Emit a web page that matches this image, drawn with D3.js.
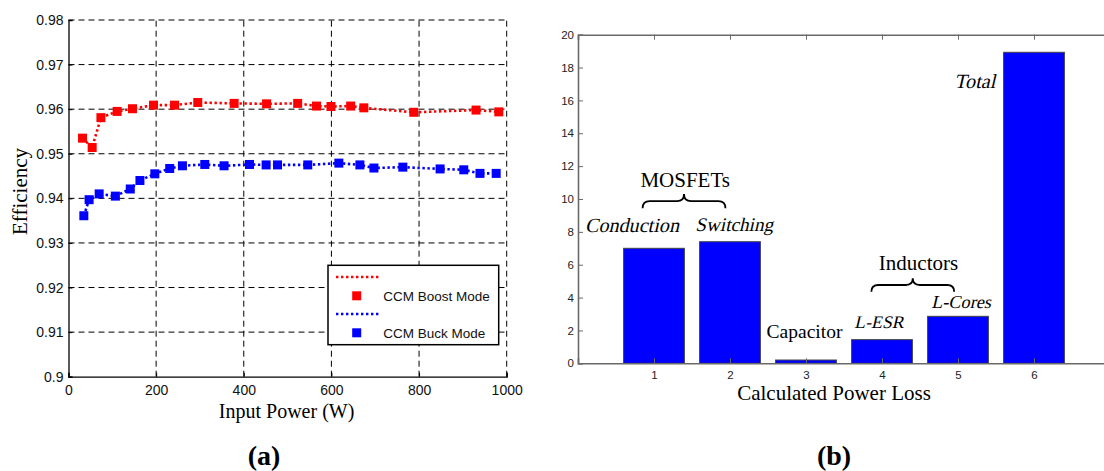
<!DOCTYPE html>
<html><head><meta charset="utf-8">
<script src="https://cdn.jsdelivr.net/npm/d3@7"></script>
<style>
body{margin:0;background:#fff;}
svg{display:block;}
</style></head>
<body>
<svg id="c" width="1104" height="471"></svg>
<script>
// ---------- Data: panel (a) ----------
const boostX = [32,54,74,111,146,194,242,295,378,452,523,566,599,644,674,788,930,982];
const boostY = [0.9535,0.9514,0.9581,0.9595,0.9601,0.9609,0.9609,0.9615,0.9613,0.9612,0.9613,0.9607,0.9606,0.9607,0.9603,0.9593,0.9598,0.9594];
const buckX = [35,47,70,107,141,163,197,231,260,311,355,413,451,477,546,617,665,697,763,848,902,939,976];
const buckY = [0.9361,0.9397,0.9410,0.9405,0.9421,0.9440,0.9455,0.9467,0.9473,0.9476,0.9473,0.9476,0.9475,0.9475,0.9475,0.9479,0.9475,0.9468,0.9470,0.9466,0.9464,0.9456,0.9456];
const xTicksA = [0,200,400,600,800,1000];
const yTicksA = [0.9,0.91,0.92,0.93,0.94,0.95,0.96,0.97,0.98];
const seriesNames = ["CCM Boost Mode","CCM Buck Mode"];

// ---------- Data: panel (b) ----------
const lossCats = [1,2,3,4,5,6];
const lossVals = [7.0,7.4,0.2,1.44,2.86,18.93];
const yTicksB = [0,2,4,6,8,10,12,14,16,18,20];
const lossLabels = ["Conduction","Switching","Capacitor","L-ESR","L-Cores","Total"];
const groupLabels = ["MOSFETs","Inductors"];

const svg = d3.select("#c");
const SANS = "'Liberation Sans', Arial, sans-serif";
const SERIF = "'Liberation Serif', 'Times New Roman', serif";

// ================= Panel (a) =================
const xA = d3.scaleLinear().domain([0,1000]).range([68.5,506.7]);
const yA = d3.scaleLinear().domain([0.9,0.98]).range([376.7,20]);
const gA = svg.append("g");

// grid
gA.selectAll(".vg").data(xTicksA.filter(d=>d>0)).join("line")
  .attr("x1",d=>xA(d)).attr("x2",d=>xA(d)).attr("y1",yA(0.9)).attr("y2",yA(0.98))
  .attr("stroke","#000").attr("stroke-width",1).attr("stroke-dasharray","6,4");
gA.selectAll(".hg").data(yTicksA.filter(d=>d>0.9)).join("line")
  .attr("x1",xA(0)).attr("x2",xA(1000)).attr("y1",d=>yA(d)).attr("y2",d=>yA(d))
  .attr("stroke","#000").attr("stroke-width",1).attr("stroke-dasharray","6,4");

// axes
const axL = d3.axisLeft(yA).tickValues(yTicksA).tickSize(-4).tickPadding(5)
  .tickFormat(d=>String(+d.toFixed(2)));
const gy = gA.append("g").attr("transform",`translate(${xA(0)},0)`).call(axL);
const axB = d3.axisBottom(xA).tickValues(xTicksA).tickSize(-4).tickPadding(8).tickFormat(d=>String(d));
const gx = gA.append("g").attr("transform",`translate(0,${yA(0.9)})`).call(axB);
[gy,gx].forEach(g=>{
  g.select(".domain").attr("stroke","#000").attr("stroke-width",1.3);
  g.selectAll(".tick line").attr("stroke","#000");
  g.selectAll("text").attr("font-family",SANS).attr("font-size",14).attr("fill","#111");
});

// lines + markers
const series = [
  {name:seriesNames[0], xs:boostX, ys:boostY, color:"#ff0000"},
  {name:seriesNames[1], xs:buckX, ys:buckY, color:"#0000ff"}
];
const line = d3.line().x(d=>xA(d[0])).y(d=>yA(d[1]));
series.forEach(s=>{
  const pts = s.xs.map((x,i)=>[x,s.ys[i]]);
  gA.append("path").datum(pts).attr("d",line).attr("fill","none")
    .attr("stroke",s.color).attr("stroke-width",2.6).attr("stroke-dasharray","2.4,2.6");
  gA.selectAll(null).data(pts).join("rect")
    .attr("x",d=>xA(d[0])-4.5).attr("y",d=>yA(d[1])-4.5).attr("width",9).attr("height",9)
    .attr("fill",s.color);
});

// legend
const lg = gA.append("g");
lg.append("rect").attr("x",328).attr("y",265.3).attr("width",170.7).attr("height",79.4)
  .attr("fill","#fff").attr("stroke","#000").attr("stroke-width",1.5);
series.forEach((s,i)=>{
  const oy = 265.3 + i*37;
  lg.append("line").attr("x1",336).attr("x2",378.5).attr("y1",oy+11.7).attr("y2",oy+11.7)
    .attr("stroke",s.color).attr("stroke-width",2.6).attr("stroke-dasharray","2.4,2.6");
  lg.append("rect").attr("x",352.2).attr("y",oy+26).attr("width",9).attr("height",9).attr("fill",s.color);
  lg.append("text").attr("x",383.3).attr("y",oy+35.4).text(s.name)
    .attr("font-family",SANS).attr("font-size",13.5).attr("fill","#111");
});

// titles
gA.append("text").attr("x",xA(500)-1).attr("y",418).attr("text-anchor","middle")
  .attr("font-family",SERIF).attr("font-size",20).text("Input Power (W)");
gA.append("text").attr("transform","translate(27,191.5) rotate(-90)").attr("text-anchor","middle")
  .attr("font-family",SERIF).attr("font-size",21).text("Efficiency");
gA.append("text").attr("x",264).attr("y",465).attr("text-anchor","middle")
  .attr("font-family",SERIF).attr("font-size",28).attr("font-weight","bold").text("(a)");

// ================= Panel (b) =================
const xB = d3.scaleLinear().domain([0,7]).range([578,1110]);
const yB = d3.scaleLinear().domain([0,20]).range([363.3,34.7]);
const gB = svg.append("g");
const axisCol = "#6a6a6a";

// bars
const bw = (xB(0.8)-xB(0));
gB.selectAll(".bar").data(lossCats).join("rect")
  .attr("x",(d)=>xB(d)-bw/2).attr("width",bw)
  .attr("y",(d,i)=>yB(lossVals[i])).attr("height",(d,i)=>yB(0)-yB(lossVals[i]))
  .attr("fill","#0000ff").attr("stroke","#444").attr("stroke-width",1);

// axes: box with inward ticks
const bLeft = d3.axisLeft(yB).tickValues(yTicksB).tickSize(-5).tickPadding(4).tickFormat(d=>String(d));
const bBottom = d3.axisBottom(xB).tickValues(lossCats).tickSize(-5).tickPadding(8).tickFormat(d=>String(d));
const bTop = d3.axisTop(xB).tickValues(lossCats).tickSize(-5).tickFormat("");
const bRight = d3.axisRight(yB).tickValues(yTicksB).tickSize(-5).tickFormat("");
const gbl = gB.append("g").attr("transform",`translate(${xB(0)},0)`).call(bLeft);
const gbb = gB.append("g").attr("transform",`translate(0,${yB(0)})`).call(bBottom);
const gbt = gB.append("g").attr("transform",`translate(0,${yB(20)})`).call(bTop);
const gbr = gB.append("g").attr("transform",`translate(${xB(7)},0)`).call(bRight);
[gbl,gbb,gbt,gbr].forEach(g=>{
  g.select(".domain").attr("stroke",axisCol).attr("stroke-width",1.6);
  g.selectAll(".tick line").attr("stroke",axisCol);
  g.selectAll("text").attr("font-family",SANS).attr("font-size",11.5).attr("fill","#222");
});

// annotations (data coordinates)
function brace(g, x1, x2, yEnd, yTip){
  const X1=xB(x1), X2=xB(x2), Ye=yB(yEnd), Yt=yB(yTip);
  const Ym=(Ye+Yt)/2, Xm=(X1+X2)/2, r=7;
  const p = `M${X1},${Ye} Q${X1},${Ym} ${X1+r},${Ym} L${Xm-r},${Ym} Q${Xm},${Ym} ${Xm},${Yt} `+
            `Q${Xm},${Ym} ${Xm+r},${Ym} L${X2-r},${Ym} Q${X2},${Ym} ${X2},${Ye}`;
  g.append("path").attr("d",p).attr("fill","none").attr("stroke","#000").attr("stroke-width",1.8);
}
brace(gB, 0.85, 1.94, 9.43, 10.3);
brace(gB, 3.86, 4.95, 4.36, 5.17);

const ann = [
  {t:lossLabels[0], x:0.71, y:8.0, it:true, fs:21},
  {t:lossLabels[1], x:2.055, y:8.05, it:true, fs:20},
  {t:lossLabels[2], x:2.98, y:1.53, it:false, fs:19.5},
  {t:lossLabels[3], x:3.96, y:2.13, it:true, fs:18.5},
  {t:lossLabels[4], x:5.04, y:3.35, it:true, fs:19},
  {t:lossLabels[5], x:5.22, y:16.76, it:true, fs:21},
  {t:groupLabels[0], x:1.41, y:10.75, it:false, fs:21},
  {t:groupLabels[1], x:4.48, y:5.68, it:false, fs:21}
];
// italic labels: slanted serif (oblique) so the Times-like face is kept
gB.selectAll(".ann").data(ann).join("text")
  .attr("transform",d=>`translate(${xB(d.x)},${yB(d.y)})`+(d.it?" skewX(-13)":""))
  .attr("text-anchor","middle")
  .attr("font-family",SERIF).attr("font-size",d=>d.it?d.fs*0.96:d.fs)
  .text(d=>d.t);

gB.append("text").attr("x",834).attr("y",400).attr("text-anchor","middle")
  .attr("font-family",SERIF).attr("font-size",21).text("Calculated Power Loss");
gB.append("text").attr("x",834).attr("y",465).attr("text-anchor","middle")
  .attr("font-family",SERIF).attr("font-size",28).attr("font-weight","bold").text("(b)");
</script>
</body></html>
